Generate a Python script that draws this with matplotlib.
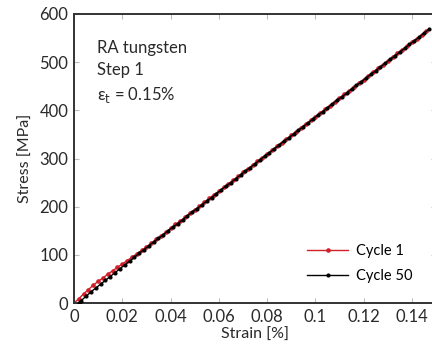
import matplotlib
matplotlib.use("Agg")
import matplotlib.pyplot as plt

plt.rcParams["font.family"] = ["Lato", "DejaVu Sans"]

# cycle 1 (red)
strain_c1 = [0.000, 0.002, 0.004, 0.006, 0.008, 0.010, 0.012, 0.014, 0.016, 0.018,
             0.020, 0.022, 0.024, 0.026, 0.028, 0.030, 0.032, 0.034, 0.036, 0.038,
             0.040, 0.042, 0.044, 0.046, 0.048, 0.050, 0.052, 0.054, 0.056, 0.058,
             0.060, 0.062, 0.064, 0.066, 0.068, 0.070, 0.072, 0.074, 0.076, 0.078,
             0.080, 0.082, 0.084, 0.086, 0.088, 0.090, 0.092, 0.094, 0.096, 0.098,
             0.100, 0.102, 0.104, 0.106, 0.108, 0.110, 0.112, 0.114, 0.116, 0.118,
             0.120, 0.122, 0.124, 0.126, 0.128, 0.130, 0.132, 0.134, 0.136, 0.138,
             0.140, 0.142, 0.144, 0.146]
stress_c1 = [0, 9, 19, 28, 37, 45, 52, 60, 67, 74,
             81, 88, 95, 102, 109, 116, 124, 132, 139, 147,
             155, 163, 170, 178, 186, 194, 201, 209, 217, 225,
             232, 240, 248, 255, 263, 271, 279, 286, 294, 302,
             310, 317, 325, 333, 341, 348, 356, 364, 372, 379,
             387, 395, 402, 410, 418, 426, 433, 441, 449, 457,
             464, 472, 480, 488, 495, 503, 511, 519, 526, 534,
             542, 549, 557, 565]

# cycle 50 (black)
strain_c50 = [0.002, 0.003, 0.005, 0.007, 0.009, 0.011, 0.013, 0.015, 0.017, 0.019, 0.021,
              0.023, 0.025, 0.027, 0.029, 0.031, 0.033, 0.035, 0.037, 0.039, 0.041,
              0.043, 0.045, 0.047, 0.049, 0.051, 0.053, 0.055, 0.057, 0.059, 0.061,
              0.063, 0.065, 0.067, 0.069, 0.071, 0.073, 0.075, 0.077, 0.079, 0.081,
              0.083, 0.085, 0.087, 0.089, 0.091, 0.093, 0.095, 0.097, 0.099, 0.101,
              0.103, 0.105, 0.107, 0.109, 0.111, 0.113, 0.115, 0.117, 0.119, 0.121,
              0.123, 0.125, 0.127, 0.129, 0.131, 0.133, 0.135, 0.137, 0.139, 0.141,
              0.143, 0.145, 0.147]
stress_c50 = [0, 5, 14, 23, 31, 39, 47, 55, 63, 71, 79,
              87, 95, 103, 111, 119, 127, 134, 142, 150, 158,
              165, 173, 181, 189, 196, 204, 212, 219, 227, 235,
              243, 250, 258, 266, 274, 281, 289, 297, 305, 312,
              320, 328, 336, 343, 351, 359, 366, 374, 382, 390,
              397, 405, 413, 421, 428, 436, 444, 452, 459, 467,
              475, 482, 490, 498, 506, 513, 521, 529, 537, 544,
              552, 560, 568]

x_ticks = [0, 0.02, 0.04, 0.06, 0.08, 0.1, 0.12, 0.14]
x_ticklabels = ["0", "0.02", "0.04", "0.06", "0.08", "0.1", "0.12", "0.14"]
y_ticks = [0, 100, 200, 300, 400, 500, 600]

fig = plt.figure(figsize=(4.32, 3.52), dpi=100)
ax = fig.add_axes([74 / 432, 49 / 352, 362 / 432, 289 / 352])

ax.plot(strain_c1, stress_c1, "-o", color="#d0202a", lw=1.0, ms=2.3,
        label="Cycle 1", zorder=2)
ax.plot(strain_c50, stress_c50, "-o", color="black", lw=1.0, ms=2.0,
        label="Cycle 50", zorder=3)

ax.set_xlim(0, 0.15)
ax.set_ylim(0, 600)
ax.set_xticks(x_ticks)
ax.set_xticklabels(x_ticklabels)
ax.set_yticks(y_ticks)
ax.tick_params(direction="in", length=3.5, width=0.8, colors="#bbbbbb",
               labelcolor="#2a2a2a", labelsize=12, top=True, right=True,
               pad=4)
for s in ax.spines.values():
    s.set_color("#333333")
    s.set_linewidth(1.4)

ax.set_xlabel("Strain [%]", fontsize=11.5, color="#2a2a2a", labelpad=2)
ax.set_ylabel("Stress [MPa]", fontsize=11.5, color="#2a2a2a", labelpad=5)

ax.text(0.063, 0.91, "RA tungsten\nStep 1\nε$_\\mathrm{t}$ = 0.15%",
        transform=ax.transAxes, fontsize=12, va="top", ha="left",
        color="#2a2a2a", linespacing=1.45)

leg = ax.legend(loc="lower right", bbox_to_anchor=(0.97, 0.025), frameon=False,
                fontsize=10.5, handlelength=2.8, labelspacing=0.75,
                handletextpad=0.5)

fig.savefig("out.png", dpi=100)
